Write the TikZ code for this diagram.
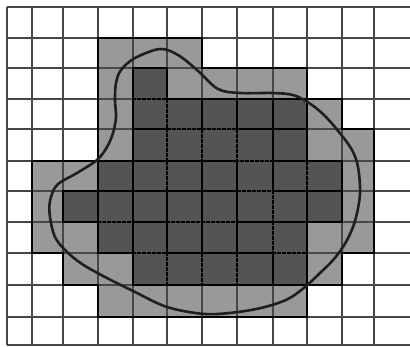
\documentclass[tikz,border=0pt]{standalone}
\definecolor{lightg}{gray}{0.6}
\definecolor{darkg}{gray}{0.33}
\tikzset{
  gridline/.style={draw=black!72, line width=1.1pt},
  dashline/.style={draw=black, line width=1.2pt, dash pattern=on 3.5pt off 1.5pt},
  darkoutline/.style={draw=black, line width=1.1pt},
  grayoutline/.style={draw=black, line width=1.9pt},
  blob/.style={draw=black!88, line width=2.6pt, line join=round},
}
\begin{document}
\begin{tikzpicture}[x=1pt,y=-1pt]
\useasboundingbox (0,0) rectangle (410,347);
\fill[white] (0,0) rectangle (410,347);
\def\xs{{7,32,63,98,133,167,202,237,273,307,342,374,410}}
\def\ys{{7,38,68,99,129,161,191,222,253,285,317,345}}
\foreach \i in {0,...,12}{
  \foreach \j in {0,...,11}{
    \coordinate (g\i-\j) at (\xs[\i],\ys[\j]);
  }
}
% light gray region
\fill[lightg] (g3-1) -- (g6-1) -- (g6-2) -- (g9-2) -- (g9-3) -- (g10-3) -- (g10-4) -- (g11-4)
  -- (g11-8) -- (g10-8) -- (g10-9) -- (g9-9) -- (g9-10) -- (g3-10) -- (g3-9) -- (g2-9)
  -- (g2-8) -- (g1-8) -- (g1-5) -- (g3-5) -- cycle;
% dark region
\fill[darkg] (g4-2) -- (g5-2) -- (g5-3) -- (g9-3) -- (g9-5) -- (g10-5) -- (g10-7) -- (g9-7)
  -- (g9-9) -- (g4-9) -- (g4-8) -- (g3-8) -- (g3-7) -- (g2-7) -- (g2-6) -- (g3-6)
  -- (g3-5) -- (g4-5) -- cycle;
% grid
\foreach \i in {0,...,11}{
  \draw[gridline] (g\i-0) -- (g\i-11);
}
\foreach \j in {0,...,11}{
  \draw[gridline] (g0-\j) -- (g12-\j);
}
% dashed lines in dark cells
\foreach \c/\r in {4/2,
  4/3,5/3,6/3,7/3,8/3,
  4/4,5/4,6/4,7/4,8/4,
  3/5,4/5,5/5,6/5,7/5,8/5,9/5,
  2/6,3/6,4/6,5/6,6/6,7/6,8/6,9/6,
  3/7,4/7,5/7,6/7,7/7,8/7,
  4/8,5/8,6/8,7/8,8/8}{
  \pgfmathtruncatemacro\cc{\c+1}
  \pgfmathtruncatemacro\rr{\r+1}
  \draw[dashline] (g\c-\r) rectangle (g\cc-\rr);
}
% dark outline
\draw[darkoutline] (g4-2) -- (g5-2) -- (g5-3) -- (g9-3) -- (g9-5) -- (g10-5) -- (g10-7) -- (g9-7)
  -- (g9-9) -- (g4-9) -- (g4-8) -- (g3-8) -- (g3-7) -- (g2-7) -- (g2-6) -- (g3-6)
  -- (g3-5) -- (g4-5) -- cycle;
% gray outline
\draw[grayoutline] (g3-1) -- (g6-1) -- (g6-2) -- (g9-2) -- (g9-3) -- (g10-3) -- (g10-4) -- (g11-4)
  -- (g11-8) -- (g10-8) -- (g10-9) -- (g9-9) -- (g9-10) -- (g3-10) -- (g3-9) -- (g2-9)
  -- (g2-8) -- (g1-8) -- (g1-5) -- (g3-5) -- cycle;
% blob
\draw[blob] plot[smooth cycle, tension=0.55] coordinates {
  (160,49) (178,55) (197,70) (218,89) (240,93) (272,93) (293,95) (309,103)
  (324,115) (339,132) (352,150) (358,167) (360,194) (355,221) (346,242)
  (334,259) (320,273) (305,287) (288,299) (265,307) (238,312) (205,314)
  (167,307) (133,291) (105,277) (82,264) (66,251) (55,237) (50,217)
  (50,201) (57,185) (77,173) (97,160) (107,147) (113,133) (116,117)
  (115,100) (116,83) (121,70) (135,58)
};
\end{tikzpicture}
\end{document}
